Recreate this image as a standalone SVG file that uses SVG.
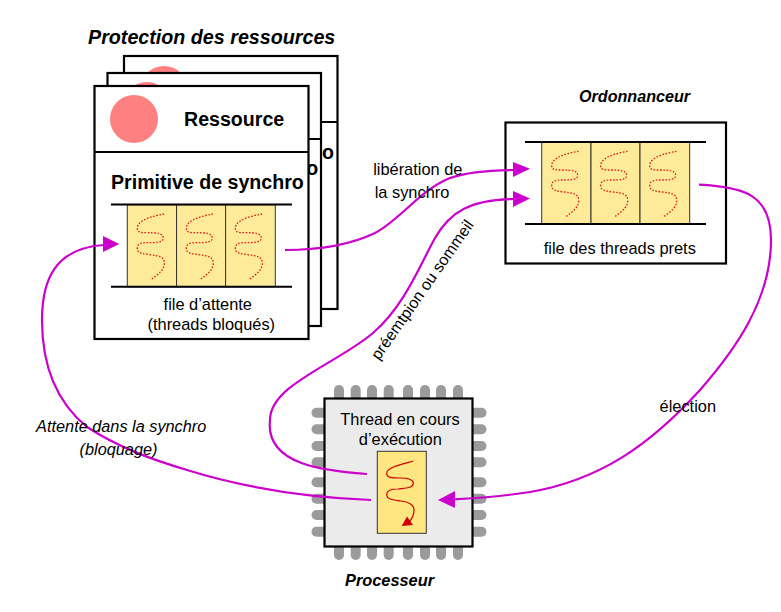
<svg xmlns="http://www.w3.org/2000/svg" xmlns:xlink="http://www.w3.org/1999/xlink" width="781" height="612" viewBox="0 0 781 612">
<style>
text{font-family:"Liberation Sans",Arial,sans-serif;fill:#000}
.card{fill:#fff;stroke:#000;stroke-width:2.2}
.div{stroke:#000;stroke-width:2;fill:none}
.res{fill:#ff8080}
.b{font-weight:bold;font-size:19.6px}
.t{font-size:16.4px}
.m{text-anchor:middle}
.bi{font-weight:bold;font-style:italic}
.i{font-style:italic;font-size:16.3px}
.cell{fill:#fdeb9a;stroke:#333;stroke-width:1}
.rail{stroke:#000;stroke-width:2}
.sq{fill:none;stroke:#e01a1a;stroke-width:1.3;stroke-dasharray:1.6 1.6}
.pin{fill:#9c9a9c}
.conn{fill:none;stroke:#cc00cc;stroke-width:2.2}
.head{fill:#cc00cc}
</style>
<defs>
<path id="sq" class="sq" d="M36.7,9.3C27,11 10,15 10,23.600C10,28 14,28 20,28C30,28 36,28.500 36,33.600C36,38 28,38 20,38C14,38 10,39 10,43.600C10,49 16,49 22,50C32,51 37,52 37,58.600C37,66 30,70 23.400,75.300"/>
<g id="queue">
<rect class="cell" x="0" y="0" width="49.3" height="82"/>
<rect class="cell" x="49.3" y="0" width="49" height="82"/>
<rect class="cell" x="98.3" y="0" width="49.7" height="82"/>
<use xlink:href="#sq"/>
<use xlink:href="#sq" x="49"/>
<use xlink:href="#sq" x="98"/>
</g>
</defs>
<text x="88" y="43.500" class="bi" font-size="19.700">Protection des ressources</text>

<g id="card-back">
<rect class="card" x="124" y="56" width="213.500" height="253"/>
<circle class="res" cx="164" cy="90" r="24"/>
<path class="div" d="M124,122H337.500"/>
<text x="322" y="159" class="b">o</text>
</g>
<g id="card-middle">
<rect class="card" x="107.500" y="73" width="213.500" height="253"/>
<circle class="res" cx="147" cy="106" r="24"/>
<path class="div" d="M107.500,139H321"/>
<text x="306.300" y="175" class="b">o</text>
</g>
<g id="card-front">
<rect class="card" x="94.500" y="86" width="214" height="253"/>
<circle class="res" cx="134" cy="119" r="24"/>
<path class="div" d="M94.500,152H308.500"/>
<text x="184" y="125.500" class="b">Ressource</text>
<text x="111" y="188.500" class="b">Primitive de synchro</text>
<use xlink:href="#queue" x="127.300" y="204.700"/>
<path class="rail" d="M111,204.500H292M111,286.700H292"/>
<text x="207.800" y="310" class="t m">file d’attente</text>
<text x="211.300" y="329.500" class="t m">(threads bloqués)</text>
</g>
<g id="ordonnanceur">
<rect class="card" x="505.500" y="122.500" width="220.500" height="141"/>
<use xlink:href="#queue" x="541.700" y="142"/>
<path class="rail" d="M525,142H706M525,224H706"/>
<text x="619.800" y="253.500" class="t m">file des threads prets</text>
</g>
<text x="579" y="102" class="bi" font-size="17" textLength="111" lengthAdjust="spacingAndGlyphs">Ordonnanceur</text>

<g id="processeur">
<g class="pin">
<rect x="334" y="385" width="10" height="175" rx="5"/>
<rect x="350.700" y="385" width="10" height="175" rx="5"/>
<rect x="367" y="385" width="10" height="175" rx="5"/>
<rect x="383.700" y="385" width="10" height="175" rx="5"/>
<rect x="403" y="385" width="10" height="175" rx="5"/>
<rect x="420" y="385" width="10" height="175" rx="5"/>
<rect x="436" y="385" width="10" height="175" rx="5"/>
<rect x="453" y="385" width="10" height="175" rx="5"/>
<rect x="311.500" y="407.700" width="175" height="10" rx="5"/>
<rect x="311.500" y="424.300" width="175" height="10" rx="5"/>
<rect x="311.500" y="441" width="175" height="10" rx="5"/>
<rect x="311.500" y="457.300" width="175" height="10" rx="5"/>
<rect x="311.500" y="477.300" width="175" height="10" rx="5"/>
<rect x="311.500" y="493.700" width="175" height="10" rx="5"/>
<rect x="311.500" y="510" width="175" height="10" rx="5"/>
<rect x="311.500" y="526.700" width="175" height="10" rx="5"/>
</g>
<rect x="324.500" y="398.500" width="148" height="148" fill="#ebebeb" stroke="#000" stroke-width="2.200"/>
<text x="400" y="425" class="t m">Thread en cours</text>
<text x="400.300" y="445" class="t m">d’exécution</text>
<rect x="377.300" y="451.300" width="49" height="82" fill="#ffe680" stroke="#333" stroke-width="1"/>
<path d="M413.300,461C403,464 386.700,467 386.700,473.300C386.700,478 392,478 400,478C408,478 413.300,479 413.300,483.300C413.300,488 406,488 398,489C391,489 386.700,490 386.700,494.300C386.700,500 394,500 401,501C409,502 414,504 414,510C414,516 412,519 409,522" fill="none" stroke="#d00000" stroke-width="1.200"/>
<polygon points="401.700,526 407,516.500 413,525" fill="#d00000"/>
</g>
<text x="345" y="586" class="bi" font-size="17" textLength="89" lengthAdjust="spacingAndGlyphs">Processeur</text>

<g id="connectors">
<path class="conn" d="M285,250C320,250 350,245 375,233C400,220 420,190 450,178C470,171 495,170 517,170"/>
<polygon class="head" points="513,162 530,168.800 513,177"/>
<path class="conn" d="M367,474C325,471 265,465 270,420C270,385 335,365 373,333C405,305 420,265 435,238C450,212 470,199 517,199"/>
<polygon class="head" points="513,191 530,198.500 513,207"/>
<path class="conn" d="M699,184.700C745,187 771,195 771,240C771,300 735,350 700,390C650,445 600,480 530,492C505,496 480,498 453,499.300"/>
<polygon class="head" points="455,491 438,500 455,508"/>
<path class="conn" d="M371,500C300,497 235,485 187,470C150,459 118,447 87,427C60,405 42,370 42,320C42,280 55,248 104,245"/>
<polygon class="head" points="103,236 119.300,244 103,252"/>
</g>
<text x="417.800" y="175" class="t m">libération de</text>
<text x="412" y="198" class="t m">la synchro</text>
<text transform="translate(379,361) rotate(-55)" class="t" style="font-size:16px">préemtpion ou sommeil</text>
<text x="687.800" y="411.500" class="t m">élection</text>
<text x="121.200" y="431.500" class="i m">Attente dans la synchro</text>
<text x="118.500" y="455" class="i m">(bloquage)</text>
</svg>
